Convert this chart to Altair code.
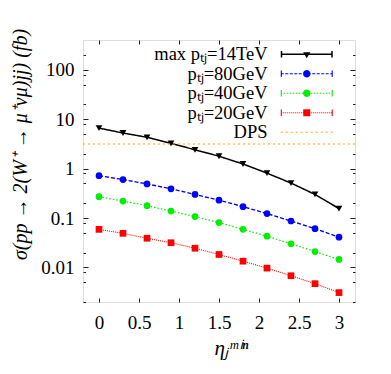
import math
import altair as alt
import pandas as pd

# ---------------- data ----------------
eta = [0.0, 0.3, 0.6, 0.9, 1.2, 1.5, 1.8, 2.1, 2.4, 2.7, 3.0]
sigma_max14 = [6.6, 5.25, 4.3, 3.25, 2.4, 1.78, 1.24, 0.81, 0.51, 0.30, 0.155]
sigma_80 = [0.72, 0.60, 0.49, 0.39, 0.30, 0.23, 0.17, 0.123, 0.087, 0.061, 0.041]
sigma_40 = [0.27, 0.22, 0.178, 0.138, 0.107, 0.081, 0.059, 0.043, 0.030, 0.021, 0.0145]
sigma_20 = [0.059, 0.049, 0.039, 0.0316, 0.0245, 0.0183, 0.0134, 0.0097, 0.0068, 0.0047, 0.0031]
dps_value = [3.15]

series = ["max pₜⱼ=14TeV", "pₜⱼ=80GeV", "pₜⱼ=40GeV", "pₜⱼ=20GeV"]
dps_label = "DPS"

x_ticks = [0, 0.5, 1, 1.5, 2, 2.5, 3]
y_major = [0.01, 0.1, 1, 10, 100]
y_minor = [0.002, 0.005, 0.008, 0.02, 0.05, 0.08, 0.2, 0.5, 0.8,
           2, 5, 8, 20, 50, 80, 200]

y_title = "σ(pp → 2(W⁺ → μ⁺νμ)jj) (fb)"
x_title = "ηⱼᵐⁱⁿ"

# ---------------- styles ----------------
colors = ["#000000", "#0000ff", "#00ee00", "#ff0000"]
dps_color = "#ffa500"
line_dashes = [[1, 0], [4, 2], [1.5, 2], [1, 1]]
line_widths = [1.5, 1.1, 1.1, 1.0]
point_shapes = ["triangle-down", "circle", "circle", "square"]
FONT = "Liberation Serif"
FRAME = "#222222"
TICK_FS = 19
LEG_FS = 18.5

rows = []
for name, vals in zip(series, [sigma_max14, sigma_80, sigma_40, sigma_20]):
    for e, v in zip(eta, vals):
        rows.append({"eta": e, "sigma": v, "series": name})
df = pd.DataFrame(rows)
dps_df = pd.DataFrame({"dps": dps_value})

# ---------------- legend symbols (filled paths: line + caps + marker) ----------------
SYM_SIZE = 16.0                    # vega symbol size -> path unit = sqrt(size)/2 px
U = math.sqrt(SYM_SIZE) / 2.0      # px per path unit
SYM_W = 52.0                       # drawn width of the legend sample, px


def rect(x0, x1, y0, y1):
    return f"M{x0/U:.4f},{y0/U:.4f}H{x1/U:.4f}V{y1/U:.4f}H{x0/U:.4f}Z"


def line_path(dash, thick=1.1):
    h = thick / 2
    on, off = dash
    if off == 0:
        return rect(-SYM_W / 2, SYM_W / 2, -h, h)
    parts = []
    x = -SYM_W / 2
    while x < SYM_W / 2:
        x1 = min(x + on, SYM_W / 2)
        parts.append(rect(x, x1, -h, h))
        x = x1 + off
    return "".join(parts)


def caps(thick=1.1, half=3.2):
    return rect(-SYM_W / 2, -SYM_W / 2 + thick, -half, half) + rect(SYM_W / 2 - thick, SYM_W / 2, -half, half)


def circle(r=3.7, n=20):
    pts = [(r * math.cos(2 * math.pi * i / n), r * math.sin(2 * math.pi * i / n)) for i in range(n)]
    return "M" + "L".join(f"{px/U:.4f},{py/U:.4f}" for px, py in pts) + "Z"


def tri_down(w=3.6, h=6.0):
    return f"M{-w/U:.4f},{-h/3/U:.4f}L{w/U:.4f},{-h/3/U:.4f}L0,{2*h/3/U:.4f}Z"


def square(s=3.5):
    return rect(-s, s, -s, s)


legend_names = series + [dps_label]
legend_colors = colors + [dps_color]
legend_paths = [
    line_path([1, 0], 1.5) + caps(1.5) + tri_down(),
    line_path([3, 1.5]) + caps() + circle(),
    line_path([1.5, 1.5]) + caps() + circle(),
    line_path([1, 1]) + caps() + square(),
    line_path([2, 3]),
]
leg_df = pd.DataFrame({"name": legend_names})

# ---------------- scales / axes ----------------
xs = alt.Scale(domain=[-0.2, 3.2], nice=False, zero=False)
ys = alt.Scale(type="log", domain=[0.002, 400], nice=False)


def tick_axis(values, size, orient):
    return alt.Axis(values=values, orient=orient, labels=False, domain=False,
                    grid=False, ticks=True, tickSize=size,
                    offset=alt.ExprRef(f"{-size}"),
                    tickColor=FRAME, tickWidth=1, title=None)


x_main = alt.Axis(values=x_ticks, format="~g", orient="bottom", ticks=False,
                  tickSize=0, domain=False, grid=False, labelFont=FONT,
                  labelFontSize=TICK_FS, labelColor="#000", labelPadding=11,
                  labelFlush=False, labelOverlap=False,
                  title=x_title, titleFont=FONT, titleFontSize=21,
                  titleFontStyle="italic", titleFontWeight="normal",
                  titleColor="#000", titleX=148, titleY=46,
                  titleBaseline="middle", titleAlign="center")

y_main = alt.Axis(values=y_major, format="~g", orient="left", ticks=False,
                  tickSize=0, domain=False, grid=False, labelFont=FONT,
                  labelFontSize=TICK_FS, labelColor="#000", labelPadding=9,
                  labelOverlap=False,
                  title=y_title, titleFont=FONT, titleFontSize=20,
                  titleFontStyle="italic", titleFontWeight="normal",
                  titleColor="#000", titleX=-63, titleY=104, titleAngle=270,
                  titleBaseline="middle", titleAlign="center")

color_sc = alt.Scale(domain=series, range=colors)

lines = alt.Chart(df).mark_line().encode(
    x=alt.X("eta:Q", scale=xs, axis=x_main),
    y=alt.Y("sigma:Q", scale=ys, axis=y_main),
    color=alt.Color("series:N", scale=color_sc, legend=None),
    strokeDash=alt.StrokeDash("series:N", scale=alt.Scale(domain=series, range=line_dashes), legend=None),
    strokeWidth=alt.StrokeWidth("series:N", scale=alt.Scale(domain=series, range=line_widths), legend=None),
)

points = alt.Chart(df).mark_point(filled=True, opacity=1, size=45).encode(
    x=alt.X("eta:Q", scale=xs, axis=tick_axis(x_ticks, 4, "bottom")),
    y=alt.Y("sigma:Q", scale=ys, axis=tick_axis(y_major, 5, "left")),
    color=alt.Color("series:N", scale=color_sc, legend=None),
    shape=alt.Shape("series:N", scale=alt.Scale(domain=series, range=point_shapes), legend=None),
)

ghost1 = alt.Chart(df).mark_point(opacity=0).encode(
    x=alt.X("eta:Q", scale=xs, axis=tick_axis(x_ticks, 4, "top")),
    y=alt.Y("sigma:Q", scale=ys, axis=tick_axis(y_minor, 2.5, "left")),
)
ghost2 = alt.Chart(df).mark_point(opacity=0).encode(
    x=alt.X("eta:Q", scale=xs, axis=None),
    y=alt.Y("sigma:Q", scale=ys, axis=tick_axis(y_major, 5, "right")),
)
ghost3 = alt.Chart(df).mark_point(opacity=0).encode(
    x=alt.X("eta:Q", scale=xs, axis=None),
    y=alt.Y("sigma:Q", scale=ys, axis=tick_axis(y_minor, 2.5, "right")),
)

dps_rule = alt.Chart(dps_df).mark_rule(color=dps_color, strokeDash=[2, 3], strokeWidth=1.2).encode(
    y=alt.Y("dps:Q", scale=ys, axis=None),
)

leg = alt.Legend(title=None, orient="none", legendX=214.5, legendY=5,
                 labelFont=FONT, labelFontSize=LEG_FS, labelColor="#000",
                 labelAlign="right", labelOffset=alt.ExprRef("-48.5"), labelLimit=0,
                 symbolSize=SYM_SIZE, symbolStrokeWidth=0, rowPadding=0.5,
                 padding=0, offset=0)

legend_layer = alt.Chart(leg_df).mark_point(filled=True, opacity=1, size=SYM_SIZE, strokeWidth=0).encode(
    color=alt.Color("name:N", scale=alt.Scale(domain=legend_names, range=legend_colors), legend=leg),
    shape=alt.Shape("name:N", scale=alt.Scale(domain=legend_names, range=legend_paths), legend=leg),
).transform_filter("false")

chart = alt.layer(lines, points, ghost1, ghost2, ghost3, dps_rule, legend_layer).resolve_scale(
    color="independent", shape="independent"
).resolve_axis(
    x="independent", y="independent"
).properties(
    width=272, height=262,
    autosize=alt.AutoSizeParams(type="none"),
    padding={"left": 75, "top": 32, "right": 20, "bottom": 62},
).configure_view(
    stroke=FRAME, strokeWidth=1.2
).configure(background="white")

chart.save("out.html", embed_options={"renderer": "svg", "actions": False})
